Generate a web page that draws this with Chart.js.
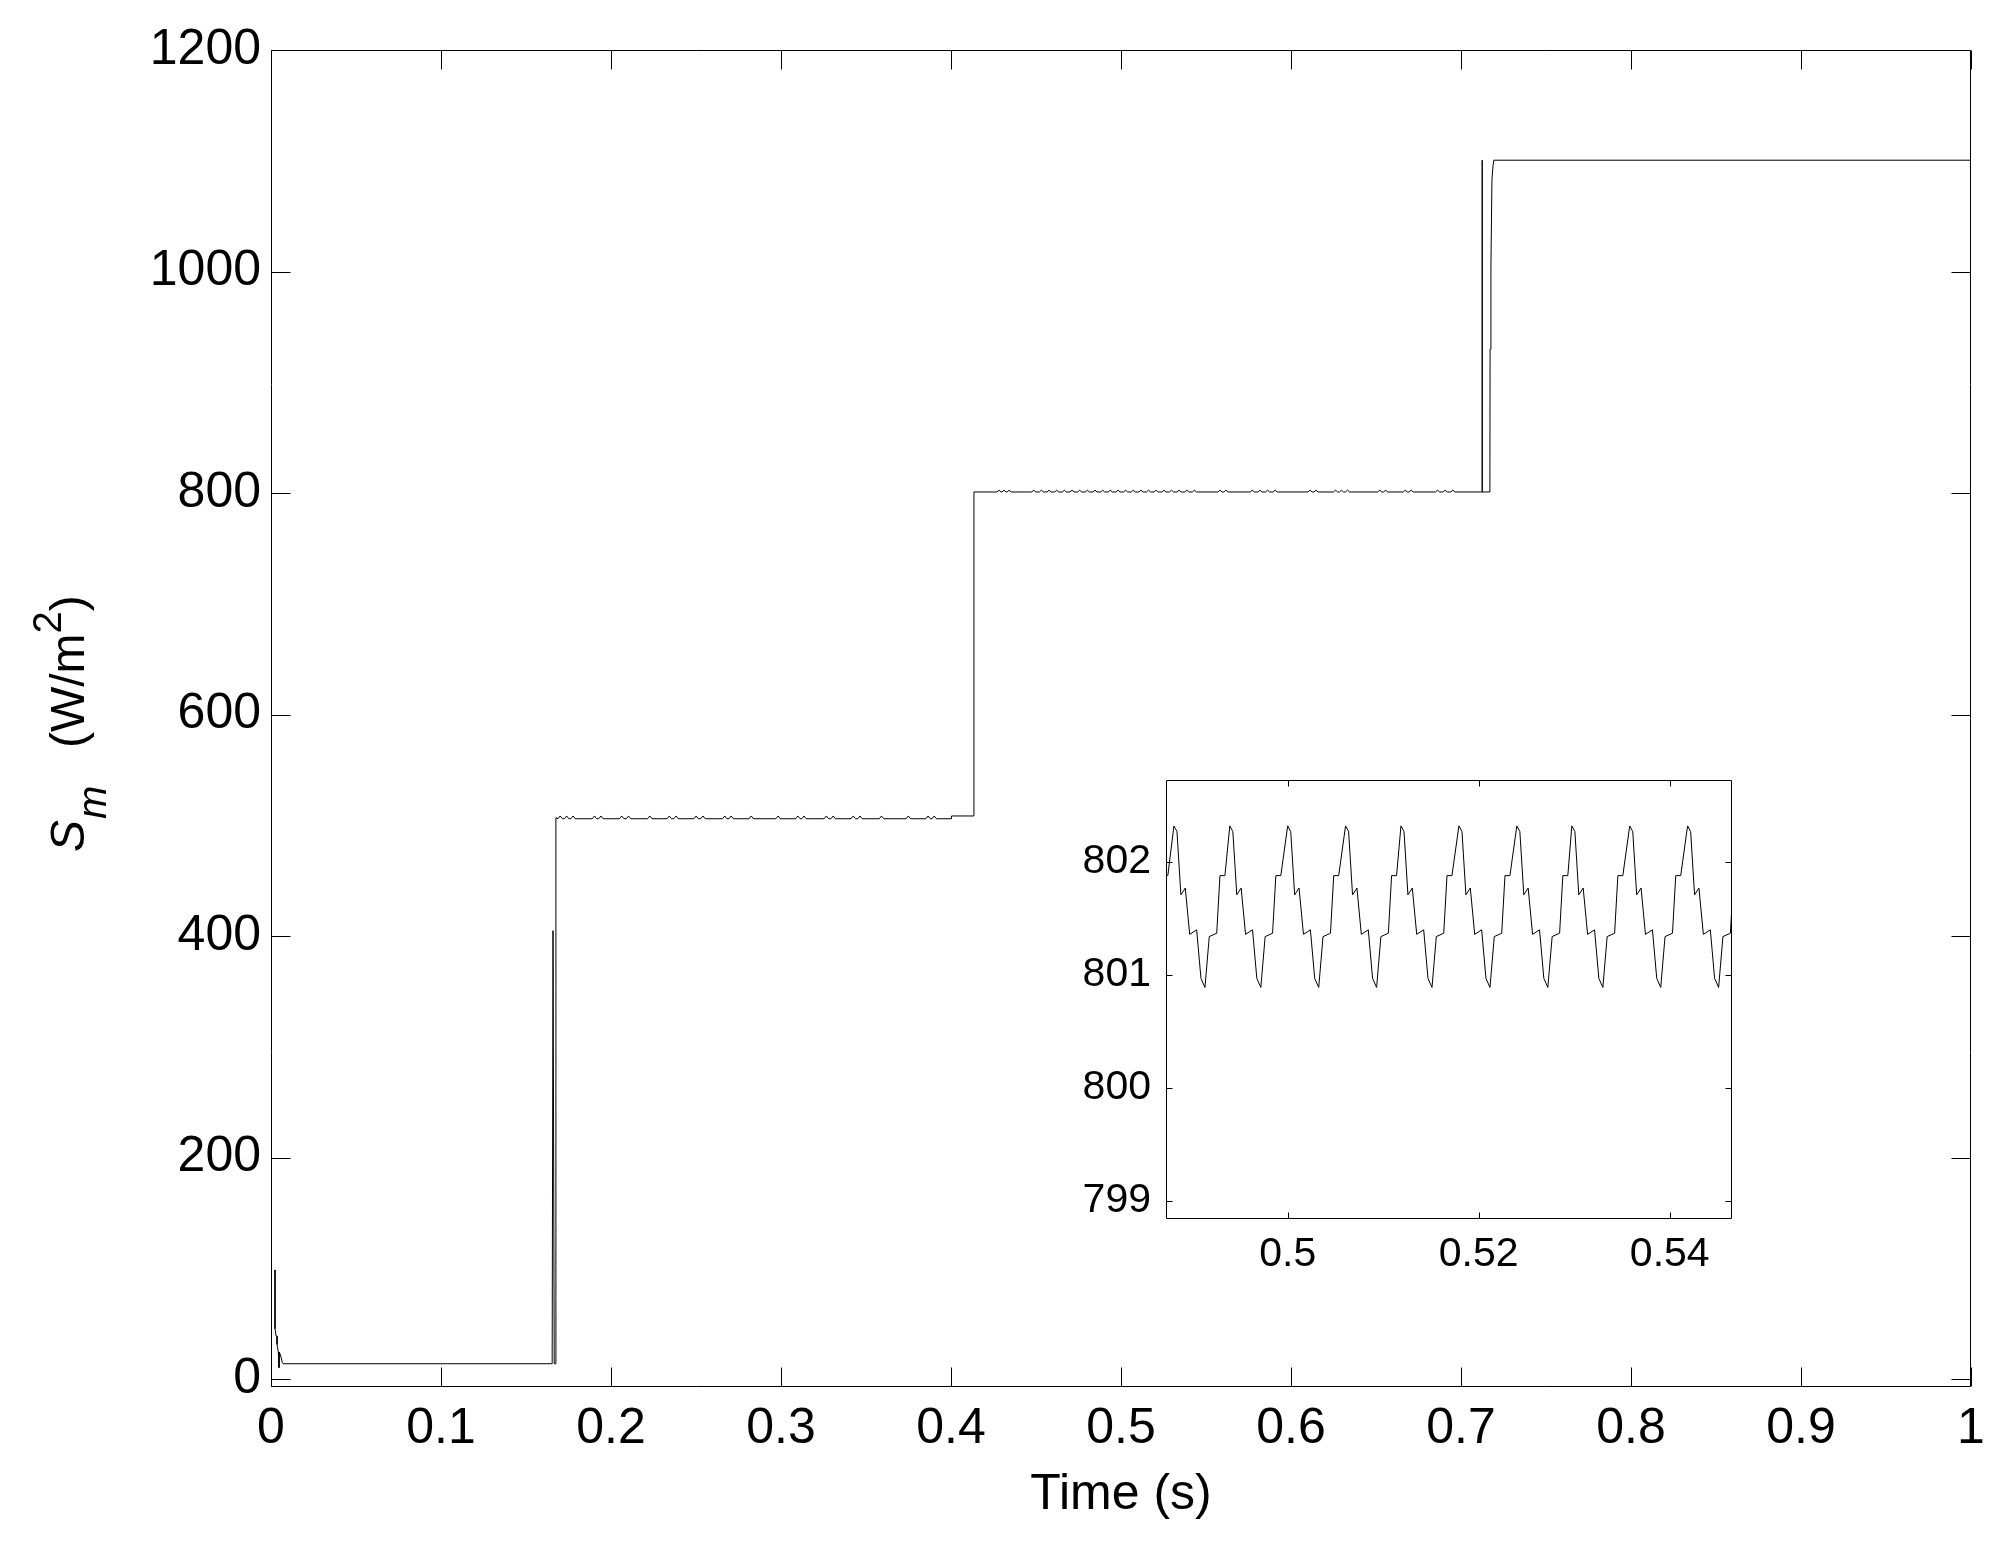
<!DOCTYPE html>
<html lang="en">
<head>
  <meta charset="UTF-8">
  <title>Sm vs Time</title>
  <script src="https://cdn.jsdelivr.net/npm/chart.js@4.4.0/dist/chart.umd.min.js"></script>
  <style>
    body { margin: 0; background: #fff; overflow: hidden; }
    #wrap { position: relative; width: 2009px; height: 1545px; }
    #mainChart { position: absolute; left: 0; top: 0; }
    #insetChart { position: absolute; left: 1060px; top: 740px; }
  </style>
</head>
<body>
  <div id="wrap">
    <canvas id="mainChart" width="2009" height="1545"></canvas>
    <canvas id="insetChart" width="700" height="560"></canvas>
  </div>

  <script>
    // main axes
    const xTicks = [0, 0.1, 0.2, 0.3, 0.4, 0.5, 0.6, 0.7, 0.8, 0.9, 1];
    const xTickLabels = ['0', '0.1', '0.2', '0.3', '0.4', '0.5', '0.6', '0.7', '0.8', '0.9', '1'];
    const yTicks = [0, 200, 400, 600, 800, 1000, 1200];
    const yTickLabels = ['0', '200', '400', '600', '800', '1000', '1200'];

    // inset axes
    const insetXTicks = [0.5, 0.52, 0.54];
    const insetXTickLabels = ['0.5', '0.52', '0.54'];
    const insetYTicks = [799, 800, 801, 802];
    const insetYTickLabels = ['799', '800', '801', '802'];

    // Sm trace, time (s)
    const mainTime = [
      0.00237, 0.00237, 0.0030, 0.00355, 0.00355, 0.0043, 0.0047, 0.0049, 0.0057, 0.0067, 0.0071,
      0.1653, 0.1654, 0.1659, 0.1666, 0.1673, 0.1676,
      0.1688, 0.1701, 0.1714, 0.1726, 0.1739, 0.1752, 0.1764, 0.1777, 0.1790,
      0.1890, 0.1903, 0.1916, 0.1928, 0.1941, 0.1954,
      0.2050, 0.2063, 0.2076, 0.2090, 0.2103, 0.2116,
      0.2215, 0.2228, 0.2241,
      0.2330, 0.2343, 0.2356, 0.2370, 0.2383, 0.2396,
      0.2488, 0.2501, 0.2514, 0.2528, 0.2541, 0.2554,
      0.2656, 0.2669, 0.2682, 0.2694, 0.2707, 0.2720,
      0.2812, 0.2825, 0.2838,
      0.2970, 0.2983, 0.2996,
      0.3086, 0.3099, 0.3112, 0.3122, 0.3135, 0.3148,
      0.3254, 0.3267, 0.3280, 0.3294, 0.3307, 0.3320,
      0.3412, 0.3425, 0.3438, 0.3452, 0.3465, 0.3478,
      0.3578, 0.3591, 0.3604,
      0.3736, 0.3749, 0.3762,
      0.3852, 0.3865, 0.3878, 0.3888, 0.3901, 0.3914,
      0.4002, 0.4003, 0.4133, 0.4135,
      0.4270, 0.4282, 0.4294, 0.4300, 0.4312, 0.4324, 0.4330, 0.4342, 0.4354,
      0.4475, 0.4487, 0.4499, 0.4520, 0.4532, 0.4544, 0.4565, 0.4577, 0.4589,
      0.4610, 0.4622, 0.4634, 0.4655, 0.4667, 0.4679, 0.4700, 0.4712, 0.4724,
      0.4745, 0.4757, 0.4769, 0.4790, 0.4802, 0.4814, 0.4835, 0.4847, 0.4859,
      0.4880, 0.4892, 0.4904, 0.4925, 0.4937, 0.4949, 0.4970, 0.4982, 0.4994,
      0.5015, 0.5027, 0.5039, 0.5060, 0.5072, 0.5084, 0.5105, 0.5117, 0.5129,
      0.5150, 0.5162, 0.5174, 0.5195, 0.5207, 0.5219, 0.5240, 0.5252, 0.5264,
      0.5285, 0.5297, 0.5309, 0.5330, 0.5342, 0.5354, 0.5375, 0.5387, 0.5399,
      0.5420, 0.5432, 0.5444,
      0.5570, 0.5582, 0.5594, 0.5605, 0.5617, 0.5629,
      0.5760, 0.5772, 0.5784, 0.5805, 0.5817, 0.5829, 0.5850, 0.5862, 0.5874, 0.5895, 0.5907, 0.5919,
      0.6100, 0.6112, 0.6124, 0.6135, 0.6147, 0.6159,
      0.6250, 0.6262, 0.6274, 0.6285, 0.6297, 0.6309, 0.6320, 0.6332, 0.6344,
      0.6510, 0.6522, 0.6534, 0.6545, 0.6557, 0.6569,
      0.6660, 0.6672, 0.6684, 0.6695, 0.6707, 0.6719,
      0.6850, 0.6862, 0.6874, 0.6895, 0.6907, 0.6919, 0.6940, 0.6952, 0.6964,
      0.6988, 0.7124, 0.71245, 0.7125, 0.7170, 0.7171, 0.7176, 0.7182, 0.7188, 0.7193, 1.0
    ];
    // Sm trace, irradiance (W/m^2)
    const mainSm = [
      98.7, 45.6, 39, 39, 31.5, 24.6, 10.5, 24.6, 21, 15, 14,
      14, 22, 405, 14, 14, 507,
      506, 508.5, 506, 506, 508.5, 506, 506, 508.5, 506,
      506, 508.5, 506, 506, 508.5, 506,
      506, 508.5, 506, 506, 508.5, 506,
      506, 508.5, 506,
      506, 508.5, 506, 506, 508.5, 506,
      506, 508.5, 506, 506, 508.5, 506,
      506, 508.5, 506, 506, 508.5, 506,
      506, 508.5, 506,
      506, 508.5, 506,
      506, 508.5, 506, 506, 508.5, 506,
      506, 508.5, 506, 506, 508.5, 506,
      506, 508.5, 506, 506, 508.5, 506,
      506, 508.5, 506,
      506, 508.5, 506,
      506, 508.5, 506, 506, 508.5, 506,
      506, 508.5, 508.5, 801,
      801, 802.6, 801, 801, 802.6, 801, 801, 802.6, 801,
      801, 802.6, 801, 801, 802.6, 801, 801, 802.6, 801,
      801, 802.6, 801, 801, 802.6, 801, 801, 802.6, 801,
      801, 802.6, 801, 801, 802.6, 801, 801, 802.6, 801,
      801, 802.6, 801, 801, 802.6, 801, 801, 802.6, 801,
      801, 802.6, 801, 801, 802.6, 801, 801, 802.6, 801,
      801, 802.6, 801, 801, 802.6, 801, 801, 802.6, 801,
      801, 802.6, 801, 801, 802.6, 801, 801, 802.6, 801,
      801, 802.6, 801,
      801, 802.6, 801, 801, 802.6, 801,
      801, 802.6, 801, 801, 802.6, 801, 801, 802.6, 801, 801, 802.6, 801,
      801, 802.6, 801, 801, 802.6, 801,
      801, 802.6, 801, 801, 802.6, 801, 801, 802.6, 801,
      801, 802.6, 801, 801, 802.6, 801,
      801, 802.6, 801, 801, 802.6, 801,
      801, 802.6, 801, 801, 802.6, 801, 801, 802.6, 801,
      801, 801, 1100.5, 801, 801, 930, 1004, 1083, 1095, 1100.5, 1100.5
    ];

    // zoomed window around t = 0.5 s
    const insetTime = [
      0.48693, 0.48745,
      0.48809, 0.48841, 0.48882, 0.48928, 0.48974, 0.49047, 0.49092, 0.49134, 0.49179, 0.49257, 0.49291, 0.49343,
      0.49394, 0.49426, 0.49467, 0.49513, 0.49559, 0.49632, 0.49677, 0.49719, 0.49764, 0.49842, 0.49876, 0.49928,
      0.50000, 0.50032, 0.50073, 0.50119, 0.50165, 0.50238, 0.50283, 0.50325, 0.50370, 0.50448, 0.50482, 0.50534,
      0.50606, 0.50638, 0.50679, 0.50725, 0.50771, 0.50844, 0.50889, 0.50931, 0.50976, 0.51054, 0.51088, 0.51140,
      0.51186, 0.51218, 0.51259, 0.51305, 0.51351, 0.51424, 0.51469, 0.51511, 0.51556, 0.51634, 0.51668, 0.51720,
      0.51793, 0.51825, 0.51866, 0.51912, 0.51958, 0.52031, 0.52076, 0.52118, 0.52163, 0.52241, 0.52275, 0.52327,
      0.52399, 0.52431, 0.52472, 0.52518, 0.52564, 0.52637, 0.52682, 0.52724, 0.52769, 0.52847, 0.52881, 0.52933,
      0.52975, 0.53007, 0.53048, 0.53094, 0.53140, 0.53213, 0.53258, 0.53300, 0.53345, 0.53423, 0.53457, 0.53509,
      0.53581, 0.53613, 0.53654, 0.53700, 0.53746, 0.53819, 0.53864, 0.53906, 0.53951, 0.54029, 0.54063, 0.54115,
      0.54187, 0.54219, 0.54260, 0.54306, 0.54352, 0.54425, 0.54470, 0.54512, 0.54557, 0.54635, 0.54669
    ];
    const insetSm = [
      801.88, 801.88,
      802.32, 802.27, 801.71, 801.77, 801.36, 801.40, 800.97, 800.89, 801.34, 801.37, 801.88, 801.88,
      802.32, 802.27, 801.71, 801.77, 801.36, 801.40, 800.97, 800.89, 801.34, 801.37, 801.88, 801.88,
      802.32, 802.27, 801.71, 801.77, 801.36, 801.40, 800.97, 800.89, 801.34, 801.37, 801.88, 801.88,
      802.32, 802.27, 801.71, 801.77, 801.36, 801.40, 800.97, 800.89, 801.34, 801.37, 801.88, 801.88,
      802.32, 802.27, 801.71, 801.77, 801.36, 801.40, 800.97, 800.89, 801.34, 801.37, 801.88, 801.88,
      802.32, 802.27, 801.71, 801.77, 801.36, 801.40, 800.97, 800.89, 801.34, 801.37, 801.88, 801.88,
      802.32, 802.27, 801.71, 801.77, 801.36, 801.40, 800.97, 800.89, 801.34, 801.37, 801.88, 801.88,
      802.32, 802.27, 801.71, 801.77, 801.36, 801.40, 800.97, 800.89, 801.34, 801.37, 801.88, 801.88,
      802.32, 802.27, 801.71, 801.77, 801.36, 801.40, 800.97, 800.89, 801.34, 801.37, 801.88, 801.88,
      802.32, 802.27, 801.71, 801.77, 801.36, 801.40, 800.97, 800.89, 801.34, 801.37, 801.88
    ];

    const FAMILY = 'Liberation Sans, Arial, Helvetica, sans-serif';
    Chart.defaults.font.family = FAMILY;
    Chart.defaults.color = '#000';

    // matlab-style box with inward ticks on all four sides
    const boxTicks = {
      id: 'boxTicks',
      beforeDraw(chart) {
        const a = chart.chartArea, ctx = chart.ctx;
        ctx.save();
        ctx.fillStyle = '#fff';
        ctx.fillRect(a.left, a.top, a.right - a.left, a.bottom - a.top);
        ctx.restore();
      },
      afterDraw(chart, args, opts) {
        const { ctx, chartArea: a, scales } = chart;
        const len = opts.tickLen || 10;
        const L = Math.round(a.left) + 0.5, R = Math.round(a.right) - 0.5;
        const T = Math.round(a.top) + 0.5, B = Math.round(a.bottom) - 0.5;
        ctx.save();
        ctx.strokeStyle = '#000';
        ctx.lineWidth = 1;
        ctx.beginPath();
        ctx.rect(L, T, R - L, B - T);
        scales.x.ticks.forEach(t => {
          const px = Math.round(scales.x.getPixelForValue(t.value)) + 0.5;
          ctx.moveTo(px, B); ctx.lineTo(px, B - len);
          ctx.moveTo(px, T); ctx.lineTo(px, T + len);
        });
        scales.y.ticks.forEach(t => {
          const py = Math.round(scales.y.getPixelForValue(t.value)) + 0.5;
          ctx.moveTo(L, py); ctx.lineTo(L + len, py);
          ctx.moveTo(R, py); ctx.lineTo(R - len, py);
        });
        ctx.stroke();
        ctx.restore();
      }
    };

    // y label: S_m  (W/m^2), rotated
    const yLabel = {
      id: 'yLabel',
      afterDraw(chart) {
        const ctx = chart.ctx;
        ctx.save();
        ctx.translate(84, 852);
        ctx.rotate(-Math.PI / 2);
        ctx.fillStyle = '#000';
        ctx.textAlign = 'left';
        ctx.textBaseline = 'alphabetic';
        ctx.font = `italic 48px ${FAMILY}`;
        ctx.fillText('S', 0, 0);
        let x = ctx.measureText('S').width + 1;
        ctx.font = `italic 40px ${FAMILY}`;
        ctx.fillText('m', x, 22);
        x = 104;
        ctx.font = `48px ${FAMILY}`;
        ctx.fillText('(W/m', x, 0);
        x += ctx.measureText('(W/m').width;
        ctx.font = `40px ${FAMILY}`;
        ctx.fillText('2', x, -23);
        x += ctx.measureText('2').width;
        ctx.font = `48px ${FAMILY}`;
        ctx.fillText(')', x, 0);
        ctx.restore();
      }
    };

    function toPoints(xs, ys) {
      return xs.map((t, i) => ({ x: t, y: ys[i] }));
    }

    new Chart(document.getElementById('mainChart'), {
      type: 'line',
      data: {
        datasets: [{
          data: toPoints(mainTime, mainSm),
          borderColor: '#000',
          borderWidth: 1,
          pointRadius: 0,
          tension: 0,
          fill: false
        }]
      },
      options: {
        responsive: false,
        animation: false,
        events: [],
        layout: { padding: { top: 50, right: 38, left: 0, bottom: 0 } },
        plugins: {
          legend: { display: false },
          tooltip: { enabled: false },
          boxTicks: { tickLen: 19 }
        },
        scales: {
          x: {
            type: 'linear', min: 0, max: 1,
            grid: { display: false, drawTicks: false },
            border: { display: false },
            afterBuildTicks: s => { s.ticks = xTicks.map(v => ({ value: v })); },
            afterFit: s => { s.height = 158; },
            ticks: {
              padding: 12, autoSkip: false, maxRotation: 0,
              font: { size: 50 },
              callback: (v, i) => xTickLabels[i]
            },
            title: { display: true, text: 'Time (s)', font: { size: 50 }, padding: { top: 0, bottom: 20 } }
          },
          y: {
            type: 'linear', min: -7, max: 1200,
            grid: { display: false, drawTicks: false },
            border: { display: false },
            afterBuildTicks: s => { s.ticks = yTicks.map(v => ({ value: v })); },
            afterFit: s => { s.width = 271; },
            ticks: {
              padding: 10, autoSkip: false,
              font: { size: 50 },
              callback: (v, i) => yTickLabels[i]
            }
          }
        }
      },
      plugins: [boxTicks, yLabel]
    });

    new Chart(document.getElementById('insetChart'), {
      type: 'line',
      data: {
        datasets: [{
          data: toPoints(insetTime, insetSm),
          borderColor: '#000',
          borderWidth: 1,
          pointRadius: 0,
          tension: 0,
          fill: false
        }]
      },
      options: {
        responsive: false,
        animation: false,
        events: [],
        layout: { padding: { top: 34, right: 28, left: 0, bottom: 0 } },
        plugins: {
          legend: { display: false },
          tooltip: { enabled: false },
          boxTicks: { tickLen: 6 }
        },
        scales: {
          x: {
            type: 'linear', min: 0.48726, max: 0.54652,
            grid: { display: false, drawTicks: false },
            border: { display: false },
            afterBuildTicks: s => { s.ticks = insetXTicks.map(v => ({ value: v })); },
            afterFit: s => { s.height = 81; },
            ticks: {
              padding: 11, autoSkip: false, maxRotation: 0,
              font: { size: 41 },
              callback: (v, i) => insetXTickLabels[i]
            }
          },
          y: {
            type: 'linear', min: 798.84, max: 802.73,
            grid: { display: false, drawTicks: false },
            border: { display: false },
            afterBuildTicks: s => { s.ticks = insetYTicks.map(v => ({ value: v })); },
            afterFit: s => { s.width = 106; },
            ticks: {
              padding: 15, autoSkip: false,
              font: { size: 41 },
              callback: (v, i) => insetYTickLabels[i]
            }
          }
        }
      },
      plugins: [boxTicks]
    });
  </script>
</body>
</html>
